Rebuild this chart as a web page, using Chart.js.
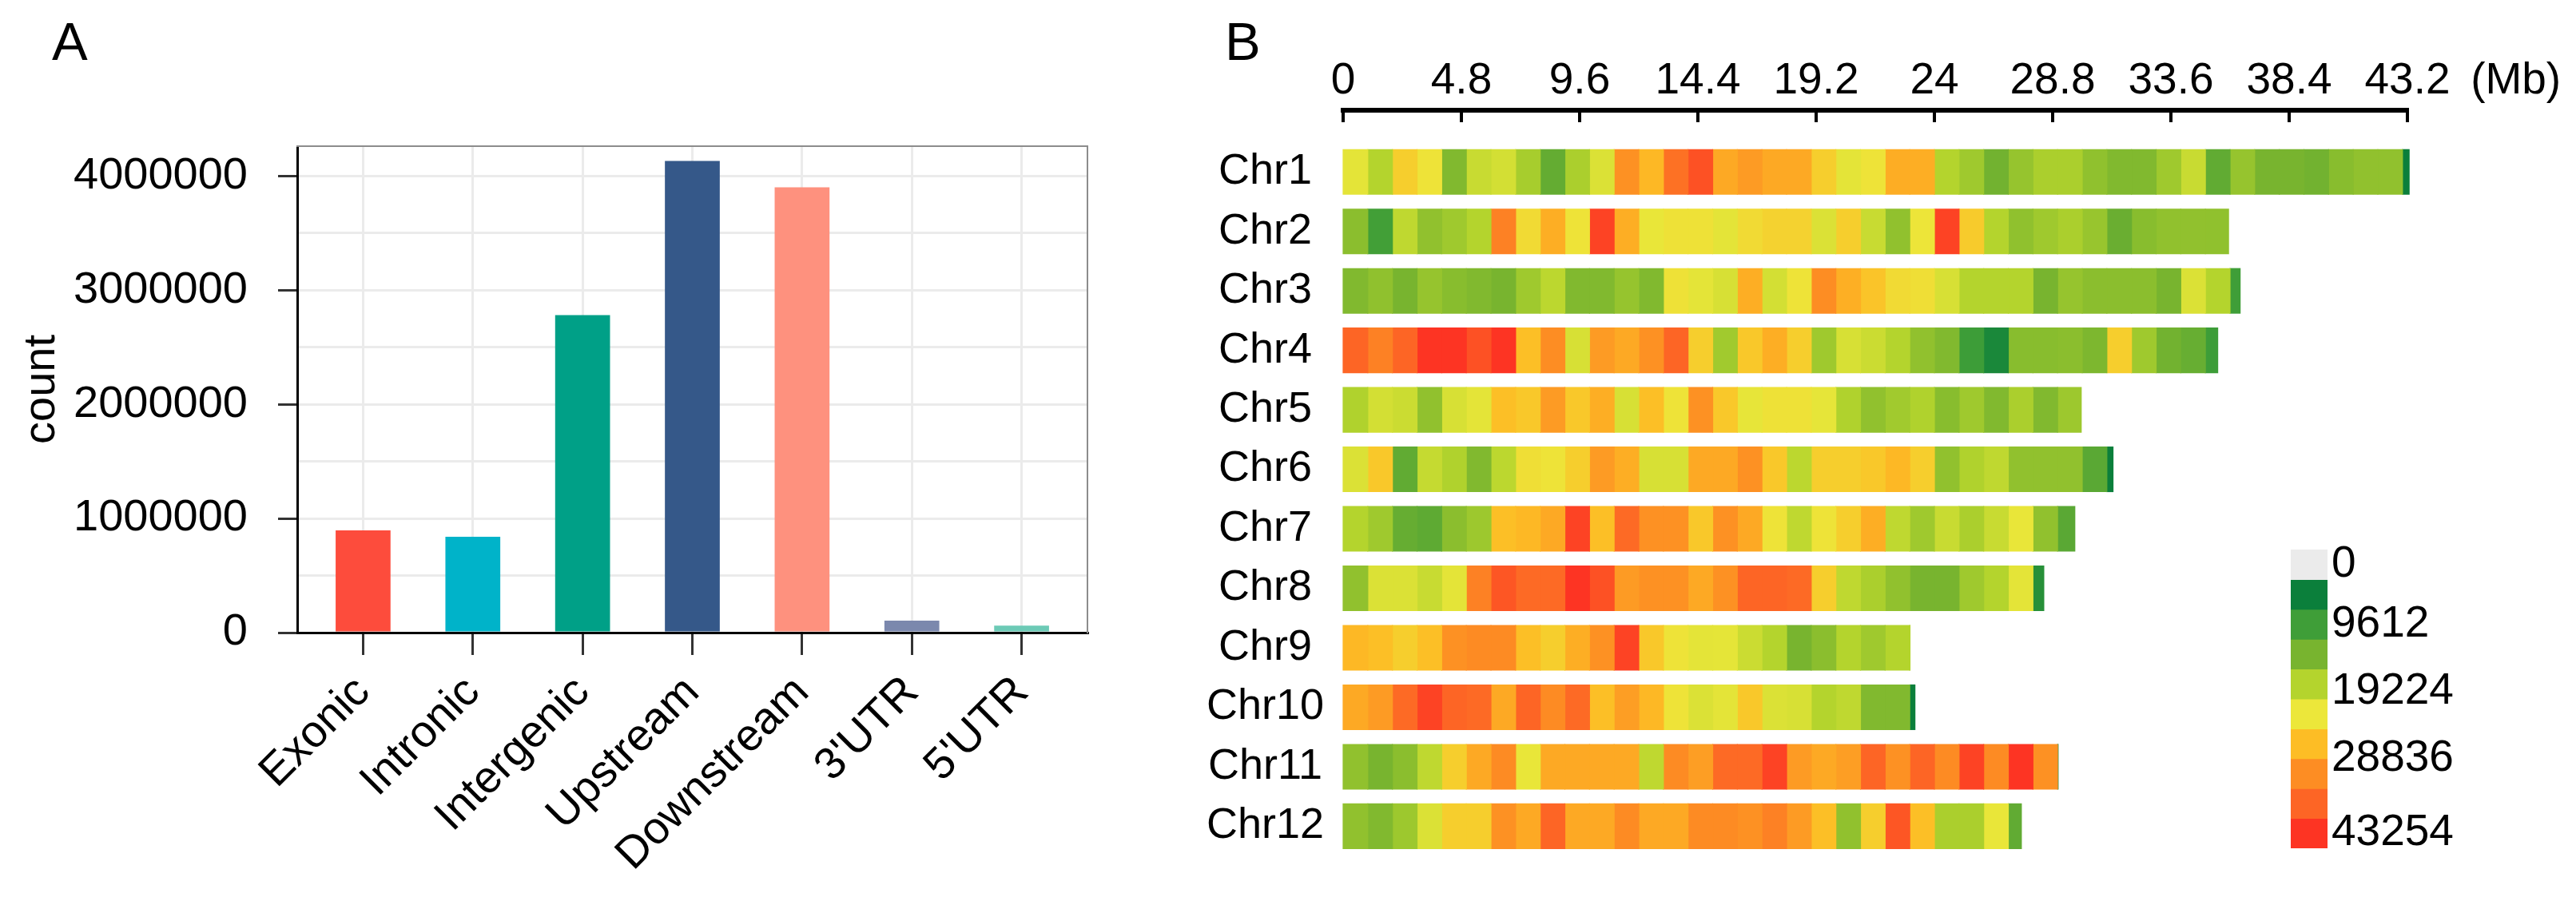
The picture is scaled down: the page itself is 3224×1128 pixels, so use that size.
<!DOCTYPE html>
<html>
<head>
<meta charset="utf-8">
<script src="https://cdn.jsdelivr.net/npm/chart.js@4.4.1/dist/chart.umd.min.js"></script>
<style>
  html, body { margin: 0; padding: 0; background: #fff; }
  body { width: 3224px; height: 1128px; position: relative; overflow: hidden; font-family: 'Liberation Sans', Arial, sans-serif; }
  .box { position: absolute; }
  .box canvas { display: block; }
  .tag { position: absolute; font-size: 67px; line-height: 67px; color: #000; }
</style>
</head>
<body>
<div class="tag" style="left:65px;top:18px">A</div>
<div class="tag" style="left:1533px;top:18px">B</div>
<div class="box" style="left:0;top:0;width:1400px;height:1128px"><canvas id="annoChart"></canvas></div>
<div class="box" style="left:1400px;top:0;width:1824px;height:1128px"><canvas id="chrChart"></canvas></div>
<div class="box" style="left:1400px;top:0;width:1824px;height:165px"><canvas id="axisChart"></canvas></div>
<div class="box" style="left:2840px;top:650px;width:384px;height:450px"><canvas id="legendChart"></canvas></div>
<script>
// ---- panel A: variant annotation counts
const annoLabels = ['Exonic', 'Intronic', 'Intergenic', 'Upstream', 'Downstream', "3'UTR", "5'UTR"];
const annoCounts = [895000, 840000, 2780000, 4130000, 3900000, 105000, 62000];
const annoColors = ['#fd4c3c', '#00b3c9', '#00a087', '#355889', '#fe917e', '#7b88ad', '#6ccab6'];
const countTicks = [0, 1000000, 2000000, 3000000, 4000000];

// ---- panel B: SNP density per 1 Mb bin
const chrNames = ['Chr1', 'Chr2', 'Chr3', 'Chr4', 'Chr5', 'Chr6', 'Chr7', 'Chr8', 'Chr9', 'Chr10', 'Chr11', 'Chr12'];
const chrLengths = [43.27, 35.94, 36.41, 35.50, 29.96, 31.25, 29.70, 28.44, 23.01, 23.21, 29.02, 27.53];

const chr1 = [20900, 16800, 24500, 22100, 12700, 18500, 19500, 15800, 10300, 16100, 20200, 30800, 26900, 34600, 38000, 28400, 29800, 28400, 28400, 24500, 20900, 22100, 28000, 27900, 16800, 15100, 11500, 14400, 16100, 16100, 13900, 12700, 12700, 15100, 18500, 10100, 14400, 12000, 12000, 11500, 13300, 14000, 14000, 2400];
const chr2 = [13500, 7500, 17800, 14000, 15100, 16800, 32700, 23100, 27900, 22100, 39400, 27900, 21400, 22300, 22300, 20900, 23100, 24000, 24000, 20200, 24500, 18500, 14000, 21800, 39400, 24800, 16800, 13900, 15100, 16100, 14600, 10800, 13300, 14000, 14000, 13900];
const chr3 = [12700, 13900, 12000, 14400, 13300, 12700, 12000, 15100, 17500, 12700, 12700, 14400, 12700, 22300, 20900, 19800, 27900, 19500, 22100, 31200, 27800, 25600, 23100, 22600, 19800, 16800, 16800, 16800, 12000, 14400, 13500, 13500, 13500, 12000, 20200, 16800, 7200];
const chr4 = [36000, 32700, 36000, 41800, 41800, 38000, 41300, 26200, 31200, 19800, 29800, 28400, 30800, 36000, 24500, 15300, 25200, 27900, 24500, 15100, 19800, 18800, 16800, 14000, 12700, 7000, 3800, 13300, 13300, 13500, 12400, 24500, 15100, 11500, 10600, 7000];
const chr5 = [16500, 19500, 18800, 14000, 19800, 20900, 26200, 25200, 29800, 25200, 27900, 19800, 26200, 22100, 30800, 25200, 21200, 22300, 22300, 21100, 16500, 14000, 15300, 16500, 13300, 15100, 12700, 16100, 12700, 15000];
const chr6 = [20200, 25200, 10100, 18300, 16500, 12700, 17500, 22600, 22100, 24500, 29800, 27900, 19800, 19800, 28400, 28400, 30800, 25200, 17500, 24500, 24500, 25200, 26900, 24500, 14000, 16500, 17800, 14000, 14000, 14000, 9500, 2400];
const chr7 = [16800, 15100, 10500, 9800, 13500, 15000, 26200, 26900, 28400, 39400, 26200, 35500, 30800, 30800, 25200, 30800, 28400, 22100, 17800, 22100, 24500, 27900, 17800, 15100, 18500, 16100, 18500, 21400, 14000, 9500];
const chr8 = [14000, 20200, 20200, 18500, 20900, 32700, 37500, 35500, 35500, 41800, 38000, 29800, 30800, 30800, 28400, 30800, 36000, 36000, 35500, 24500, 17800, 16100, 14000, 12000, 12000, 15100, 16800, 20900, 5000];
const chr9 = [26900, 26200, 24500, 26200, 30800, 31500, 31500, 26200, 24500, 27900, 30800, 39400, 25200, 22100, 20900, 21000, 18800, 16800, 12000, 13500, 16800, 15100, 16800, 16800];
const chr10 = [28400, 29800, 35500, 39400, 36000, 35500, 28400, 36000, 31500, 35500, 26200, 29500, 26900, 22100, 20200, 20900, 25200, 20200, 19800, 16800, 17800, 12700, 12700, 2000];
const chr11 = [14000, 12000, 13500, 17800, 24500, 28400, 31500, 21400, 28400, 28400, 28400, 28400, 17800, 31500, 29500, 35500, 35500, 39400, 29800, 28400, 29500, 36000, 30800, 36000, 31500, 39400, 31500, 41800, 30800, 2000];
const chr12 = [14000, 12700, 15000, 20200, 24500, 24500, 30800, 28400, 36000, 28400, 28400, 31500, 28400, 28400, 31500, 31500, 30800, 32700, 29800, 26200, 14000, 24500, 37500, 26200, 16100, 16100, 21400, 10100];
const densities = [chr1, chr2, chr3, chr4, chr5, chr6, chr7, chr8, chr9, chr10, chr11, chr12];

const mbTicks = [0, 4.8, 9.6, 14.4, 19.2, 24, 28.8, 33.6, 38.4, 43.2];
const mbTickLabels = ['0', '4.8', '9.6', '14.4', '19.2', '24', '28.8', '33.6', '38.4', '43.2'];
const mbUnit = '(Mb)';

// legend: one block per 4806 SNPs, grey block for 0
const densityStep = 4806;
const heatColors = ['#0b7f3b', '#3f9e38', '#78b42f', '#b4d42d', '#ece73a', '#fdbd25', '#fd8d23', '#fd6525', '#fd3423'];
const zeroColor = '#ebebeb';
const legendLabels = ['0', '9612', '19224', '28836', '43254'];

const FONT = "'Liberation Sans', Arial, sans-serif";
Chart.defaults.font.family = FONT;
Chart.defaults.color = '#000';
Chart.defaults.animation = false;
Chart.defaults.plugins.legend.display = false;
Chart.defaults.plugins.tooltip.enabled = false;

// colour of a density value, interpolated between the legend blocks
const heatRgb = heatColors.map(h => [1, 3, 5].map(i => parseInt(h.slice(i, i + 2), 16)));
function densityColor(v) {
    let p = v / densityStep - 0.5;
    p = Math.max(0, Math.min(heatRgb.length - 1, p));
    const i = Math.min(Math.floor(p), heatRgb.length - 2);
    const t = p - i;
    const c = heatRgb[i].map((a, j) => Math.round(a + (heatRgb[i + 1][j] - a) * t));
    return `rgb(${c[0]}, ${c[1]}, ${c[2]})`;
}

// major ticks plus the unlabelled minor ones half-way
const countGrid = [];
countTicks.forEach((v, i) => {
    countGrid.push(v);
    if (i < countTicks.length - 1) countGrid.push((v + countTicks[i + 1]) / 2);
});
const isMajor = v => countTicks.includes(v);

// Panel A
new Chart(document.getElementById('annoChart'), {
    type: 'bar',
    data: {
        datasets: [{
            data: annoCounts.map((v, i) => ({ x: i + 1, y: v })),
            backgroundColor: annoColors,
            barPercentage: 0.5,
            categoryPercentage: 1,
            borderWidth: 0
        }]
    },
    options: {
        responsive: true,
        maintainAspectRatio: false,
        layout: { padding: { left: 0, top: 183, right: 39, bottom: 0 } },
        scales: {
            x: {
                type: 'linear',
                min: 0.4,
                max: 7.6,
                offset: false,
                afterBuildTicks: s => { s.ticks = annoLabels.map((l, i) => ({ value: i + 1 })); },
                ticks: {
                    callback: (v, i) => annoLabels[i],
                    autoSkip: false,
                    minRotation: 45,
                    maxRotation: 45,
                    font: { size: 56 },
                    padding: 14
                },
                grid: { offset: false, color: '#ebebeb', lineWidth: 3, tickColor: '#333', tickLength: 28, tickWidth: 3 },
                border: { color: '#000', width: 3 },
                afterFit: s => { s.height = 1128 - 792; }
            },
            y: {
                min: 0,
                max: 4260000,
                afterBuildTicks: s => { s.ticks = countGrid.map(v => ({ value: v })); },
                ticks: {
                    autoSkip: false,
                    callback: v => isMajor(v) ? String(v) : '',
                    font: { size: 56 },
                    padding: 38
                },
                grid: {
                    color: '#ebebeb',
                    lineWidth: 3,
                    tickColor: ctx => ctx.tick && isMajor(ctx.tick.value) ? '#333' : 'rgba(0,0,0,0)',
                    tickLength: 24,
                    tickWidth: 3
                },
                border: { color: '#000', width: 3 },
                title: { display: true, text: 'count', font: { size: 56 }, padding: { top: 19, bottom: 0 } },
                afterFit: s => { s.width = 372; }
            },
            xTop: {
                type: 'linear',
                position: 'top',
                display: true,
                grid: { display: false, drawTicks: false },
                ticks: { display: false },
                border: { color: '#8c8c8c', width: 2 },
                afterFit: s => { s.height = 0; }
            },
            yRight: {
                type: 'linear',
                position: 'right',
                display: true,
                grid: { display: false, drawTicks: false },
                ticks: { display: false },
                border: { color: '#8c8c8c', width: 2 },
                afterFit: s => { s.width = 0; }
            }
        }
    }
});

// Panel B: chromosome bins as floating bars, one dataset per bin index
const maxBins = Math.max(...densities.map(d => d.length));
const chrDatasets = [];
for (let k = 0; k < maxBins; k++) {
    chrDatasets.push({
        data: densities.map((d, c) => k < d.length ? [k, Math.min(k + 1, chrLengths[c])] : null),
        backgroundColor: densities.map(d => k < d.length ? densityColor(d[k]) : 'rgba(0,0,0,0)'),
        grouped: false,
        barPercentage: 0.75,
        categoryPercentage: 1,
        borderWidth: 0,
        inflateAmount: 0.6,
        clip: false
    });
}

new Chart(document.getElementById('chrChart'), {
    type: 'bar',
    data: { labels: chrNames, datasets: chrDatasets },
    options: {
        indexAxis: 'y',
        responsive: true,
        maintainAspectRatio: false,
        layout: { padding: { left: 0, right: 211, top: 178, bottom: 33 } },
        scales: {
            x: { type: 'linear', min: 0, max: 43.2, display: false },
            y: {
                grid: { display: false, drawTicks: false },
                border: { display: false },
                ticks: { font: { size: 54 }, color: '#000', padding: 24, crossAlign: 'center' },
                afterFit: s => { s.width = 281; }
            }
        }
    }
});

// Panel B: position axis on top, tick marks pointing down
new Chart(document.getElementById('axisChart'), {
    type: 'scatter',
    data: { datasets: [] },
    options: {
        responsive: true,
        maintainAspectRatio: false,
        layout: { padding: { left: 281, right: 211, top: 0, bottom: 12 } },
        scales: {
            x: {
                type: 'linear',
                position: 'top',
                min: 0,
                max: 43.2,
                afterBuildTicks: s => {
                    s.ticks = mbTicks.map(v => ({ value: v })).concat([{ value: 47.6 }]);
                },
                ticks: {
                    callback: (v, i) => i < mbTickLabels.length ? mbTickLabels[i] : mbUnit,
                    autoSkip: false,
                    maxRotation: 0,
                    font: { size: 55 },
                    padding: 3
                },
                grid: {
                    drawTicks: false,
                    color: ctx => ctx.tick && ctx.tick.value > 43.2 ? 'rgba(0,0,0,0)' : '#000',
                    lineWidth: 4
                },
                border: { color: '#000', width: 6 },
                afterFit: s => { s.height = 138; }
            },
            y: { display: false }
        }
    }
});

// colour legend
const legendBlocks = [zeroColor].concat(heatColors);
const legendTickAt = [0.5, 2.5, 4.75, 7.0, 9.5];
new Chart(document.getElementById('legendChart'), {
    type: 'bar',
    data: {
        labels: [''],
        datasets: legendBlocks.map((c, i) => ({
            data: [[i, i + 1]],
            backgroundColor: c,
            grouped: false,
            barPercentage: 1,
            categoryPercentage: 1,
            borderWidth: 0,
            inflateAmount: 0.5
        }))
    },
    options: {
        responsive: true,
        maintainAspectRatio: false,
        layout: { padding: { left: 27, top: 27, bottom: 23, right: 0 } },
        scales: {
            x: { display: false },
            y: {
                position: 'right',
                min: 0,
                max: legendBlocks.length,
                reverse: true,
                afterBuildTicks: s => { s.ticks = legendTickAt.map(v => ({ value: v })); },
                ticks: { autoSkip: false, callback: (v, i) => legendLabels[i], font: { size: 55 }, padding: 5, color: '#000' },
                grid: { display: false, drawTicks: false },
                border: { display: false },
                afterFit: s => { s.width = 311; }
            }
        }
    }
});
</script>
</body>
</html>
